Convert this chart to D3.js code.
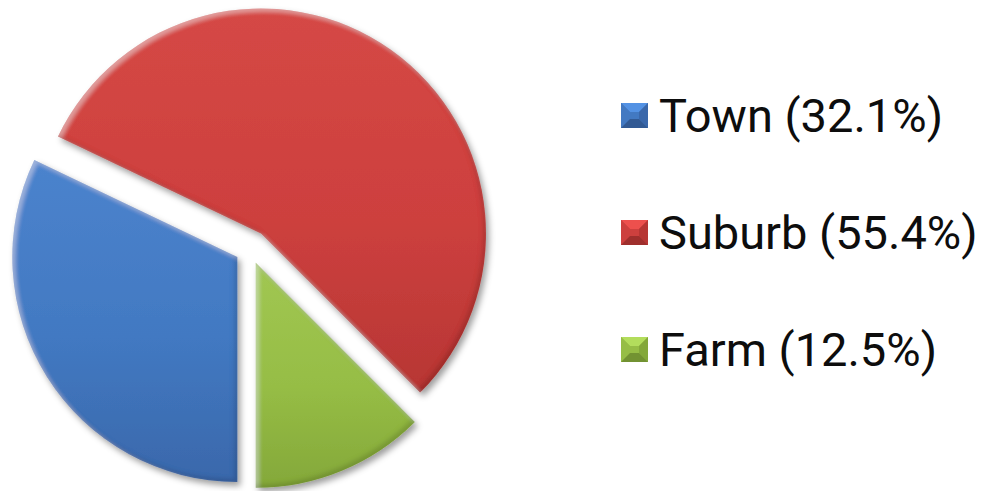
<!DOCTYPE html>
<html>
<head>
<meta charset="utf-8">
<script src="https://cdn.jsdelivr.net/npm/d3@7"></script>
<style>
  html, body { margin: 0; padding: 0; background: #fff; }
  svg { display: block; }
</style>
</head>
<body>
<svg id="chart" width="984" height="491"></svg>
<script>
// Share of respondents by area type
const categories = ["Town", "Suburb", "Farm"];
const shares = [32.1, 55.4, 12.5];

const W = 984, H = 491;
const cx = 250, cy = 249, radius = 225;
const explode = { Town: 15, Suburb: 19, Farm: 15 };

const palette = {
  Town:   { top: "#4b83cd", mid: "#4279c2", bottom: "#3a68ab" },
  Suburb: { top: "#d54845", mid: "#cd403e", bottom: "#b73634" },
  Farm:   { top: "#a1c753", mid: "#96bd45", bottom: "#84a83a" }
};

const svg = d3.select("#chart");
const defs = svg.append("defs");

// vertical shading for each slice
categories.forEach(c => {
  const g = defs.append("linearGradient")
    .attr("id", "grad-" + c)
    .attr("x1", 0).attr("y1", 0).attr("x2", 0).attr("y2", 1);
  g.append("stop").attr("offset", "0%").attr("stop-color", palette[c].top);
  g.append("stop").attr("offset", "55%").attr("stop-color", palette[c].mid);
  g.append("stop").attr("offset", "100%").attr("stop-color", palette[c].bottom);
});

// soft drop shadow plus a bevelled rim
function bevelFilter(id, blur, off, shadowBlur, shadowOff) {
  const f = defs.append("filter").attr("id", id)
    .attr("x", "-10%").attr("y", "-10%").attr("width", "125%").attr("height", "125%");
  f.append("feGaussianBlur").attr("in", "SourceAlpha").attr("stdDeviation", shadowBlur).attr("result", "sb");
  f.append("feOffset").attr("in", "sb").attr("dx", shadowOff).attr("dy", shadowOff + 1).attr("result", "sbo");
  f.append("feFlood").attr("flood-color", "#000").attr("flood-opacity", 0.38).attr("result", "sf");
  f.append("feComposite").attr("in", "sf").attr("in2", "sbo").attr("operator", "in").attr("result", "shadow");

  f.append("feGaussianBlur").attr("in", "SourceAlpha").attr("stdDeviation", blur).attr("result", "b");
  f.append("feOffset").attr("in", "b").attr("dx", off).attr("dy", off).attr("result", "bo1");
  f.append("feComposite").attr("in", "SourceAlpha").attr("in2", "bo1").attr("operator", "out").attr("result", "hiMask");
  f.append("feFlood").attr("flood-color", "#fff").attr("flood-opacity", 0.3).attr("result", "hf");
  f.append("feComposite").attr("in", "hf").attr("in2", "hiMask").attr("operator", "in").attr("result", "hi");

  f.append("feOffset").attr("in", "b").attr("dx", -off).attr("dy", -off).attr("result", "bo2");
  f.append("feComposite").attr("in", "SourceAlpha").attr("in2", "bo2").attr("operator", "out").attr("result", "shMask");
  f.append("feFlood").attr("flood-color", "#000").attr("flood-opacity", 0.28).attr("result", "df");
  f.append("feComposite").attr("in", "df").attr("in2", "shMask").attr("operator", "in").attr("result", "dk");

  const m = f.append("feMerge");
  m.append("feMergeNode").attr("in", "shadow");
  m.append("feMergeNode").attr("in", "SourceGraphic");
  m.append("feMergeNode").attr("in", "hi");
  m.append("feMergeNode").attr("in", "dk");
}
bevelFilter("slice-bevel", 2, 3, 3, 3);

const pie = d3.pie().sort(null).startAngle(Math.PI).endAngle(3 * Math.PI);
const arcs = pie(shares);
const arc = d3.arc().innerRadius(0).outerRadius(radius);

const pieG = svg.append("g").attr("transform", `translate(${cx},${cy})`);
pieG.selectAll("path.slice")
  .data(arcs)
  .join("path")
  .attr("class", "slice")
  .attr("transform", (d, i) => {
    const mid = (d.startAngle + d.endAngle) / 2;
    const o = explode[categories[i]];
    return `translate(${o * Math.sin(mid)},${-o * Math.cos(mid)})`;
  })
  .attr("d", arc)
  .attr("fill", (d, i) => `url(#grad-${categories[i]})`)
  .attr("filter", "url(#slice-bevel)");

// legend with pyramid-style markers
const legendX = 621, legendY0 = 103, legendStep = 117, box = 27;
const legend = svg.append("g");
categories.forEach((c, i) => {
  const y = legendY0 + i * legendStep;
  const g = legend.append("g").attr("transform", `translate(${legendX},${y})`);
  const p = palette[c];
  const s = box, hgt = 25, b = 9;
  g.append("rect").attr("width", s).attr("height", hgt).attr("fill", p.mid);
  // top face
  g.append("path").attr("d", `M0,0 L${s},0 L${s - b},${b} L${b},${b} Z`)
    .attr("fill", d3.color(p.top).brighter(0.3));
  // left face
  g.append("path").attr("d", `M0,0 L${b},${b} L${b},${hgt - b} L0,${hgt} Z`)
    .attr("fill", p.mid);
  // right face
  g.append("path").attr("d", `M${s},0 L${s},${hgt} L${s - b},${hgt - b} L${s - b},${b} Z`)
    .attr("fill", p.bottom);
  // bottom face
  g.append("path").attr("d", `M0,${hgt} L${b},${hgt - b} L${s - b},${hgt - b} L${s},${hgt} Z`)
    .attr("fill", d3.color(p.bottom).darker(0.4));
  g.append("rect").attr("x", b).attr("y", b).attr("width", s - 2 * b).attr("height", hgt - 2 * b).attr("fill", p.mid);

  g.append("text")
    .attr("x", 659 - legendX)
    .attr("y", 29)
    .attr("font-family", "Roboto, 'Liberation Sans', sans-serif")
    .attr("font-size", 47)
    .attr("fill", "#0d0d0d")
    .text(`${c} (${shares[i].toFixed(1)}%)`);
});
</script>
</body>
</html>
